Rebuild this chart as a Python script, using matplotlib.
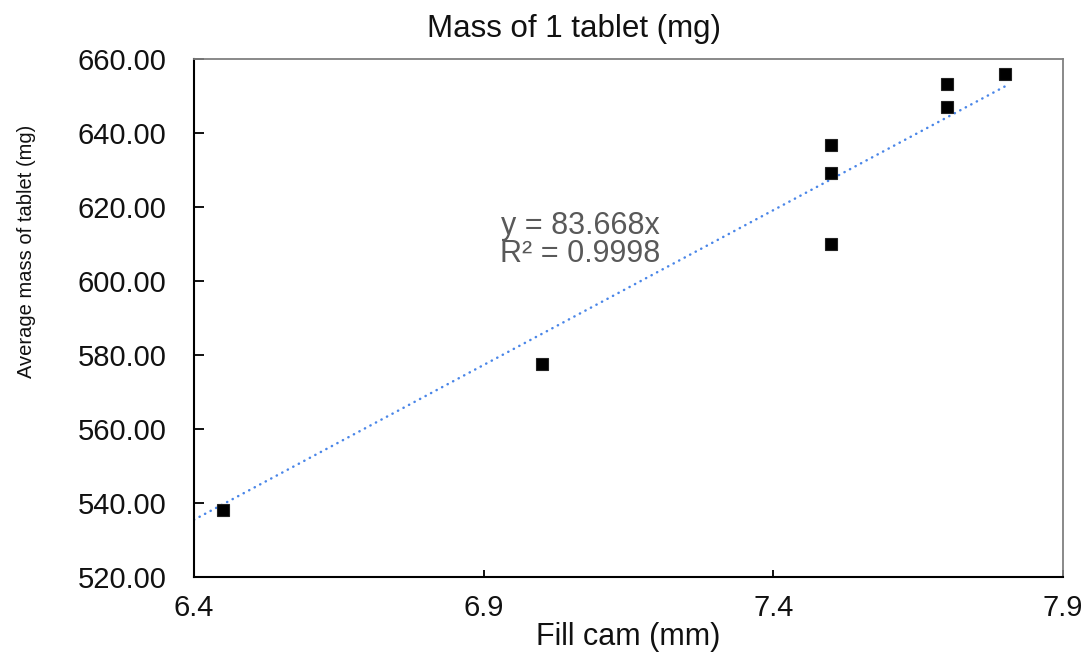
import matplotlib
matplotlib.use("Agg")
import matplotlib.pyplot as plt
import numpy as np

# Fill cam setting (mm) vs. average tablet mass (mg)
fill_cam = [6.45, 7.0, 7.5, 7.5, 7.5, 7.7, 7.7, 7.8]
avg_mass = [538.0, 577.6, 610.0, 629.2, 636.8, 647.0, 653.2, 656.0]

# Linear trendline through the origin
slope = 83.668
r_squared = 0.9998
trend_x = [6.4, 7.8]

x_ticks = [6.4, 6.9, 7.4, 7.9]
y_ticks = [520, 540, 560, 580, 600, 620, 640, 660]

plt.rcParams['font.family'] = ['Liberation Sans', 'DejaVu Sans']

W, H = 1088, 652
fig = plt.figure(figsize=(W / 100, H / 100), dpi=100)
ax = fig.add_axes([194 / W, 1 - 577 / H, (1063 - 194) / W, (577 - 59) / H])

tx = np.array(trend_x)
ax.plot(tx, slope * tx, color='#4a86e8', lw=1.8, linestyle=(0, (0.1, 2.4)),
        dash_capstyle='round', zorder=2)
ax.plot(fill_cam, avg_mass, linestyle='none', marker='s', ms=9,
        mfc='black', mec='#222222', mew=0.8, zorder=3)

ax.set_xlim(6.4, 7.9)
ax.set_ylim(520, 660)
ax.set_xticks(x_ticks)
ax.set_xticklabels([f"{v:.1f}" for v in x_ticks])
ax.set_yticks(y_ticks)
ax.set_yticklabels([f"{v:.2f}" for v in y_ticks])

ax.tick_params(axis='y', direction='in', length=7, width=1.4, pad=20,
               labelsize=21, colors='#111111')
ax.tick_params(axis='x', direction='in', length=5, width=1.4, pad=12,
               labelsize=21, colors='#111111')

for side in ('left', 'bottom'):
    ax.spines[side].set_color('black')
    ax.spines[side].set_linewidth(1.5)
for side in ('top', 'right'):
    ax.spines[side].set_color('#808080')
    ax.spines[side].set_linewidth(1.3)

ax.set_xlabel('Fill cam (mm)', fontsize=22, labelpad=0, color='#111111')
fig.text(27 / W, 1 - 251 / H, 'Average mass of tablet (mg)', rotation=90,
         ha='center', va='center', fontsize=14.5, color='#111111')
fig.text(574 / W, 1 - 29 / H, 'Mass of 1 tablet (mg)', ha='center',
         va='center', fontsize=22.5, color='#111111')

ax.annotate(f'y = {slope:.3f}x\nR² = {r_squared:.4f}', xy=(580 / W, 1 - 240 / H),
            xycoords='figure fraction', ha='center', va='center',
            fontsize=22, color='#595959', linespacing=0.95)

fig.savefig('out.png', dpi=100)
